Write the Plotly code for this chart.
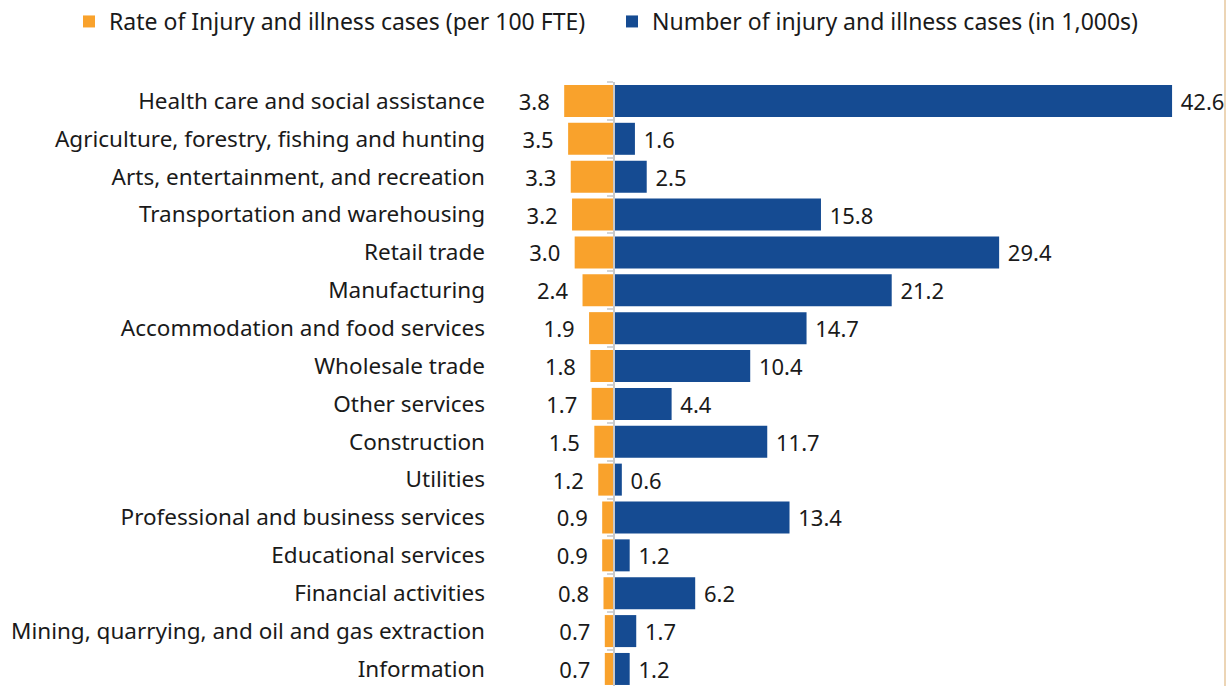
import plotly.graph_objects as go

categories = [
    "Health care and social assistance",
    "Agriculture, forestry, fishing and hunting",
    "Arts, entertainment, and recreation",
    "Transportation and warehousing",
    "Retail trade",
    "Manufacturing",
    "Accommodation and food services",
    "Wholesale trade",
    "Other services",
    "Construction",
    "Utilities",
    "Professional and business services",
    "Educational services",
    "Financial activities",
    "Mining, quarrying, and oil and gas extraction",
    "Information",
]
rate = [3.8, 3.5, 3.3, 3.2, 3.0, 2.4, 1.9, 1.8, 1.7, 1.5, 1.2, 0.9, 0.9, 0.8, 0.7, 0.7]
cases = [42.6, 1.6, 2.5, 15.8, 29.4, 21.2, 14.7, 10.4, 4.4, 11.7, 0.6, 13.4, 1.2, 6.2, 1.7, 1.2]

ORANGE = "#F9A22C"
BLUE = "#154B92"
FONT = "Noto Sans"
TXT = "#1a1a1a"

neg_rate = [-v for v in rate]
rate_text = [f"{v:.1f}\u00a0\u00a0" for v in rate]
cases_text = [f"\u00a0{v:.1f}" for v in cases]

fig = go.Figure()
fig.add_trace(go.Bar(
    y=categories, x=neg_rate, orientation="h",
    name="Rate of Injury and illness cases (per 100 FTE)",
    marker=dict(color=ORANGE, line=dict(width=0)),
    text=rate_text, textposition="outside", constraintext="none",
    textfont=dict(size=22, color=TXT, family=FONT),
    cliponaxis=False, yaxis="y", hoverinfo="skip", legend="legend",
))
fig.add_trace(go.Bar(
    y=categories, x=cases, orientation="h",
    name="Number of injury and illness cases (in 1,000s)",
    marker=dict(color=BLUE, line=dict(width=0)),
    text=cases_text, textposition="outside", constraintext="none",
    textfont=dict(size=22, color=TXT, family=FONT),
    cliponaxis=False, yaxis="y2", hoverinfo="skip", legend="legend2",
))

n = len(categories)
yrange = [n - 1 + 0.45, -0.5]
xrange_ = [-9.31, 46.64]
zero_pos = (0 - xrange_[0]) / (xrange_[1] - xrange_[0])

legend_common = dict(
    orientation="h", xref="container", yref="container",
    xanchor="left", y=1.0, yanchor="top",
    font=dict(size=23, family=FONT, color=TXT),
    itemwidth=30, bgcolor="rgba(0,0,0,0)",
)

fig.update_layout(
    width=1227, height=686,
    margin=dict(l=492, r=2, t=82, b=0, autoexpand=False),
    paper_bgcolor="white", plot_bgcolor="white",
    barmode="relative", bargap=0.155,
    font=dict(family=FONT, size=22, color=TXT),
    showlegend=True,
    legend=dict(legend_common, x=69 / 1227),
    legend2=dict(legend_common, x=612 / 1227),
    xaxis=dict(range=xrange_, visible=False, zeroline=False, showgrid=False,
               automargin=False),
    yaxis=dict(
        type="category", categoryorder="array", categoryarray=categories,
        range=yrange, showline=False, ticks="", showgrid=False,
        tickfont=dict(size=22.5, family=FONT, color=TXT),
        ticklabelstandoff=6, automargin=False,
    ),
    yaxis2=dict(
        type="category", categoryorder="array", categoryarray=categories,
        overlaying="y", matches="y", anchor="free", position=zero_pos,
        side="left", showticklabels=False, showgrid=False, automargin=False,
        showline=True, linecolor="#c9c9c9", linewidth=1.5,
        ticks="outside", tickson="boundaries", ticklen=6, tickcolor="#d4d4d4",
        tickwidth=1.5,
    ),
    shapes=[dict(type="line", xref="paper", yref="paper", x0=1.0, x1=1.0,
                 y0=0, y1=1.2, line=dict(color="#E6C79E", width=1.5))],
)

fig.write_html("out.html", post_script="document.body.style.margin='0';",
               config={"displayModeBar": False})
